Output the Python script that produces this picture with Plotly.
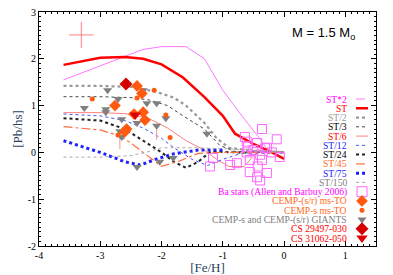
import plotly.graph_objects as go

# ---- model curves ----
st2_x = [-3.6, -3.0, -2.6, -2.3, -2.0, -1.6, -1.3, -1.0, -0.7, -0.4, -0.25]
st2_y = [1.55, 1.85, 2.05, 2.2, 2.26, 2.26, 2.0, 1.33, 0.8, 0.3, 0.02]
st_x = [-3.6, -3.0, -2.6, -2.3, -2.0, -1.65, -1.3, -1.0, -0.8, -0.5, -0.2, 0.0]
st_y = [1.87, 2.02, 2.04, 2.0, 1.88, 1.6, 1.18, 0.78, 0.40, 0.18, 0.0, -0.14]
sth2_x = [-3.6, -3.0, -2.5, -2.1, -1.8, -1.6, -1.3, -1.1, -0.9, -0.5, 0.0]
sth2_y = [1.42, 1.42, 1.40, 1.3, 1.17, 1.0, 0.63, 0.3, 0.1, 0.03, 0.0]
st3_x = [-3.6, -3.0, -2.5, -2.2, -1.9, -1.65, -1.3, -1.05, -0.8, -0.4, 0.0]
st3_y = [1.19, 1.19, 1.17, 1.12, 1.0, 0.78, 0.5, 0.15, 0.02, 0.0, 0.0]
st6_x = [-3.6, -3.0, -2.6, -2.2, -1.9, -1.6, -1.3, -1.1, -0.9, -0.65, -0.45, -0.2, 0.0]
st6_y = [0.85, 0.85, 0.83, 0.72, 0.52, 0.25, 0.05, -0.15, -0.3, -0.3, 0.0, 0.0, 0.0]
st12_x = [-3.6, -3.0, -2.6, -2.3, -2.0, -1.8, -1.5, -1.25, -1.0, -0.7, -0.4, 0.0]
st12_y = [0.82, 0.78, 0.68, 0.52, 0.3, 0.1, -0.15, -0.28, -0.15, -0.02, 0.0, 0.0]
st24_x = [-3.6, -3.0, -2.6, -2.3, -2.0, -1.8, -1.6, -1.4, -1.2, -0.8, 0.0]
st24_y = [0.73, 0.68, 0.5, 0.25, 0.0, -0.2, -0.33, -0.2, 0.02, 0.0, 0.0]
st45_x = [-3.6, -3.0, -2.7, -2.5, -2.3, -2.0, -1.7, -1.4, -1.0, 0.0]
st45_y = [0.55, 0.48, 0.36, 0.2, 0.0, -0.3, -0.18, -0.02, 0.0, 0.0]
st75_x = [-3.6, -3.0, -2.6, -2.35, -2.1, -1.8, -1.4, -1.0]
st75_y = [0.25, 0.0, -0.2, -0.27, -0.15, -0.03, 0.05, 0.05]
st150_x = [-3.6, -3.0, -2.5, -2.2, -2.0, -1.5, -1.0, -0.5, 0.0]
st150_y = [-0.1, -0.1, -0.07, 0.02, 0.1, 0.1, 0.08, 0.05, 0.02]

# ---- observations ----
ba_x = [-0.36, -0.64, -0.12, -0.61, -0.44, -0.31, -0.61, -0.39, -0.56, -1.16, -1.21, -0.88,
        -0.43, -0.59, -0.28, -0.07, -0.36, -0.56, -0.28, -0.44, -0.39, -0.77, -0.2, -0.5]
ba_y = [0.5, 0.33, 0.28, 0.23, 0.2, 0.09, 0.0, -0.05, -0.16, -0.12, -0.3, -0.27,
        -0.3, 0.12, 0.1, -0.1, -0.16, -0.42, -0.44, -0.53, -0.6, -0.23, 0.0, 0.05]
sr_x = [-2.4, -2.32, -2.76, -2.3, -2.27, -2.57, -2.6, -2.45]
sr_y = [1.42, 1.26, 1.0, 0.86, 0.69, 0.5, 0.44, 0.82]
s_x = [-3.13, -2.4, -2.12, -1.93, -2.71, -1.86]
s_y = [1.14, 1.16, 1.33, 0.8, 0.37, 0.32]
gi_x = [-2.88, -2.71, -3.26, -2.91, -2.91, -2.65, -2.3, -2.24, -2.08, -1.93, -2.08, -2.4,
        -2.68, -2.65, -2.4, -2.03, -1.81, -1.26]
gi_y = [1.33, 1.14, 0.95, 0.92, 0.86, 0.71, 1.33, 1.05, 1.05, 0.73, 0.57, 0.63,
        0.45, 0.33, -0.31, -0.2, -0.12, 0.4]
gi_lim = [0, 0, 0, 0, 0, 0, 0, 0, 0, 0, 0.3, 0, 0.38, 0, 0, 0, 0, 0]
cs1_x, cs1_y = [-2.58], [1.46]
cs2_x, cs2_y = [-2.43], [0.8]
err_x, err_y, err_dx, err_dy = [-3.31], [2.51], [0.2], [0.28]

x_ticks = [-4, -3, -2, -1, 0, 1]
y_ticks = [-2, -1, 0, 1, 2, 3]

MAG = "#ff00ff"
RED = "#ff0000"
ORA = "#ff5a10"
GRY = "#808080"
BLU = "#2020ff"

models = [
    ("ST*2", st2_x, st2_y, dict(color="#ff77ff", width=1), "solid", MAG),
    ("ST", st_x, st_y, dict(color=RED, width=2.5), "solid", RED),
    ("ST/2", sth2_x, sth2_y, dict(color="#999999", width=2.2), "dot", "#999999"),
    ("ST/3", st3_x, st3_y, dict(color="#444444", width=1), "dot", "#000000"),
    ("ST/6", st6_x, st6_y, dict(color="#ff8080", width=1), "solid", RED),
    ("ST/12", st12_x, st12_y, dict(color="#4455ff", width=1), "dot", BLU),
    ("ST/24", st24_x, st24_y, dict(color="#222222", width=2), "dot", "#000000"),
    ("ST/45", st45_x, st45_y, dict(color="#ff7040", width=1.2), "dashdot", "#ff6a20"),
    ("ST/75", st75_x, st75_y, dict(color=BLU, width=3), "dot", BLU),
    ("ST/150", st150_x, st150_y, dict(color="#aaaaaa", width=1), "dot", GRY),
]

fig = go.Figure()
for name, xs, ys, ln, dash, _ in models:
    fig.add_trace(go.Scatter(x=xs, y=ys, mode="lines", line=dict(dash=dash, **ln),
                             showlegend=False, hoverinfo="skip"))

fig.add_trace(go.Scatter(x=err_x, y=err_y, mode="markers", marker=dict(size=1, color="rgba(0,0,0,0)"),
                         error_x=dict(type="data", array=err_dx, color="#ff8080", thickness=1, width=0),
                         error_y=dict(type="data", array=err_dy, color="#ff8080", thickness=1, width=0),
                         showlegend=False))
fig.add_trace(go.Scatter(x=ba_x, y=ba_y, mode="markers",
                         marker=dict(symbol="square-open", size=9, color="#ff66ff", line=dict(width=1)),
                         showlegend=False))
fig.add_trace(go.Scatter(x=gi_x, y=gi_y, mode="markers",
                         marker=dict(symbol="triangle-down", size=8, color=GRY),
                         error_y=dict(type="data", symmetric=False, array=[0]*len(gi_lim),
                                      arrayminus=gi_lim, color="#ff9090", thickness=1, width=0),
                         showlegend=False))
fig.add_trace(go.Scatter(x=sr_x, y=sr_y, mode="markers",
                         marker=dict(symbol="diamond", size=9, color=ORA), showlegend=False))
fig.add_trace(go.Scatter(x=s_x, y=s_y, mode="markers",
                         marker=dict(symbol="circle", size=5, color=ORA), showlegend=False))
fig.add_trace(go.Scatter(x=cs1_x, y=cs1_y, mode="markers",
                         marker=dict(symbol="diamond", size=10, color="#d40000"), showlegend=False))
fig.add_trace(go.Scatter(x=cs2_x, y=cs2_y, mode="markers",
                         marker=dict(symbol="triangle-down", size=10, color="#e00000"), showlegend=False))

# ---- hand-made legend (text right, symbol at right) on overlay pixel axes ----
legend_rows = [m[0] for m in models] + ["Ba stars (Allen and Barbuy 2006)", "CEMP-(s/r) ms-TO",
                                         "CEMP-s ms-TO", "CEMP-s and CEMP-(s/r) GIANTS",
                                         "CS 29497-030", "CS 31062-050"]
row_cols = [m[5] for m in models] + [MAG, "#ff6a20", "#ff6a20", GRY, RED, RED]
y0, dy = 99.0, 9.27
TX, SX = 348, 362
annotations = []
for i, (lab, col) in enumerate(zip(legend_rows, row_cols)):
    yy = y0 + i * dy
    annotations.append(dict(x=TX, y=yy, xref="x2", yref="y2", text=lab, showarrow=False,
                            xanchor="right", yanchor="middle", borderpad=0,
                            font=dict(family="Liberation Serif", size=9.6, color=col)))
for i, (name, xs, ys, ln, dash, _) in enumerate(models):
    yy = y0 + i * dy
    d = "dash" if name == "ST*2" else dash
    fig.add_trace(go.Scatter(x=[SX - 6, SX + 6], y=[yy, yy], xaxis="x2", yaxis="y2", mode="lines",
                             line=dict(dash=d, **ln), showlegend=False, hoverinfo="skip"))
mk = [
    dict(symbol="square-open", size=10, color="#ff66ff", line=dict(width=1)),
    dict(symbol="diamond", size=9, color=ORA),
    dict(symbol="circle", size=5, color=ORA),
    dict(symbol="triangle-down", size=8, color=GRY),
    dict(symbol="diamond", size=10, color="#d40000"),
    dict(symbol="triangle-down", size=10, color="#e00000"),
]
for j, m in enumerate(mk):
    yy = y0 + (len(models) + j) * dy
    fig.add_trace(go.Scatter(x=[SX], y=[yy], xaxis="x2", yaxis="y2", mode="markers", marker=m,
                             showlegend=False, hoverinfo="skip"))

annotations.append(dict(x=323, y=33, xref="x2", yref="y2", text="M = 1.5 M<sub>o</sub>", showarrow=False,
                        xanchor="center", yanchor="middle",
                        font=dict(family="Liberation Sans", size=13, color="black")))

axis_common = dict(showgrid=False, zeroline=False, showline=True, linecolor="black", linewidth=1,
                   mirror="ticks", ticks="inside", ticklen=5, tickcolor="black", automargin=False,
                   tickfont=dict(family="Liberation Serif", size=10, color="black"))
fig.update_layout(
    width=393, height=275, margin=dict(l=39, r=17, t=12, b=29, autoexpand=False),
    paper_bgcolor="white", plot_bgcolor="white",
    xaxis=dict(range=[-4, 1.5], tickvals=x_ticks, ticktext=[str(v) for v in x_ticks],
               minor=dict(dtick=0.1, ticklen=2, ticks="inside", tickcolor="black"),
               title=dict(text="[Fe/H]", font=dict(family="Liberation Serif", size=13), standoff=0),
               **axis_common),
    yaxis=dict(range=[-2, 3], tickvals=y_ticks, ticktext=[str(v) for v in y_ticks],
               minor=dict(dtick=0.1, ticklen=2, ticks="inside", tickcolor="black"),
               title=dict(text="[Pb/hs]", font=dict(family="Liberation Serif", size=13), standoff=2),
               **axis_common),
    xaxis2=dict(range=[39, 376], overlaying="x", visible=False, fixedrange=True, automargin=False),
    yaxis2=dict(range=[246, 12], overlaying="y", visible=False, fixedrange=True, automargin=False),
    annotations=annotations,
)
fig.write_html("out.html", config={"displayModeBar": False},
               post_script="document.body.style.margin='0';")
